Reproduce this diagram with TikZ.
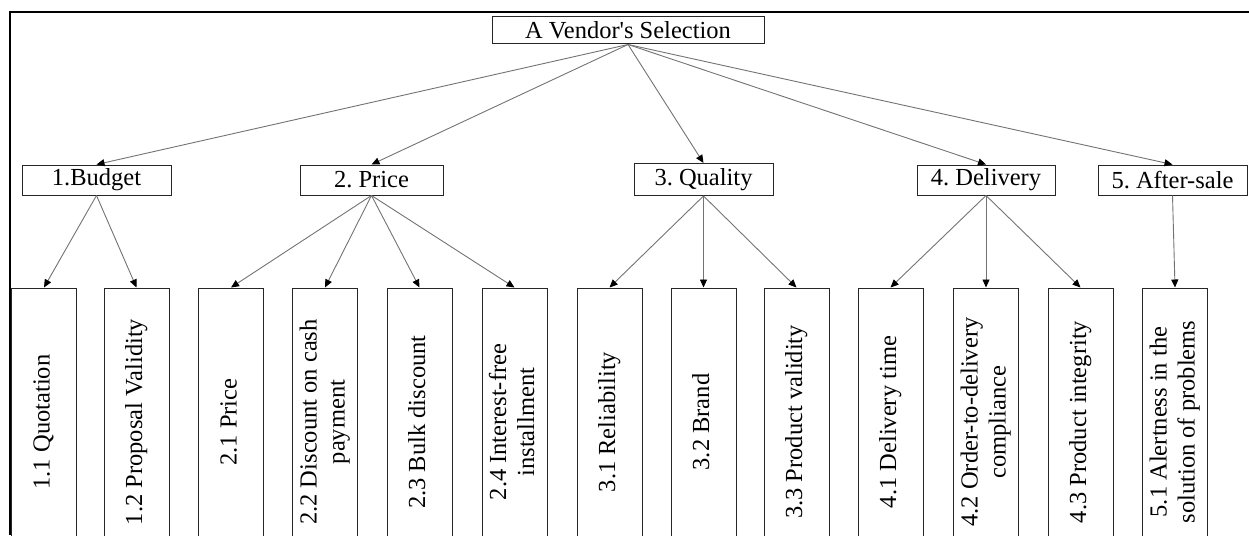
\documentclass[tikz,border=0pt]{standalone}
\usepackage{fontspec}
\usepackage{graphicx}
\setmainfont{Liberation Serif}
\usetikzlibrary{arrows.meta}

\tikzset{
  crit/.style={draw=black!85, line width=1pt, inner sep=0pt, fill=white},
  subcrit/.style={crit, minimum width=65pt, minimum height=268pt},
  link/.style={draw=black!55, line width=0.9pt, -{Triangle[length=8pt,width=7pt,black]}},
}
\newcommand{\vlabel}[1]{\rotatebox{90}{\begin{tabular}{@{}c@{}}#1\end{tabular}}}
\frenchspacing

\begin{document}
\begin{tikzpicture}[x=1pt, y=-1pt, font=\fontsize{24.5}{28}\selectfont]
  \useasboundingbox (0,0) rectangle (1249,535);
  \clip (0,0) rectangle (1249,535);
  \draw[line width=1.6pt] (10,535) -- (10,12) -- (1249,12);
  % goal
  \node[crit, minimum width=272pt, minimum height=27pt] (root) at (628,30.5) {A Vendor\textquotesingle s Selection\hspace{16pt}};
  % criteria
  \node[crit, minimum width=149pt, minimum height=30pt] (budget) at (96.5,180) {1.Budget};
  \node[crit, minimum width=143pt, minimum height=30pt] (price) at (371.5,180) {2. Price};
  \node[crit, minimum width=139pt, minimum height=32pt] (quality) at (703.5,179.5) {3. Quality};
  \node[crit, minimum width=138pt, minimum height=30pt] (delivery) at (986,180) {4. Delivery};
  \node[crit, minimum width=149pt, minimum height=30pt] (aftersale) at (1172.5,180) {5. After-sale\hspace{8pt}};
  % sub-criteria
  \foreach \n/\x/\t in {q11/44/{1.1 Quotation}, q12/136.5/{1.2 Proposal Validity},
      q21/231/{2.1 Price}, q22/325/{2.2 Discount on cash\\payment}, q23/419.5/{2.3 Bulk discount},
      q24/514.5/{2.4 Interest-free\\installment}, q31/609.5/{3.1 Reliability}, q32/703.5/{3.2 Brand},
      q33/796.5/{3.3 Product validity}, q41/890.5/{4.1 Delivery time},
      q42/986/{4.2 Order-to-delivery\\compliance}, q43/1080.5/{4.3 Product integrity},
      q51/1175/{5.1 Alertness in the\\solution of problems}}
    \node[subcrit] (\n) at (\x,422) {\vlabel{\t}};
  % links
  \foreach \a/\b in {root/budget, root/price, root/quality, root/delivery, root/aftersale,
      budget/q11, budget/q12, price/q21, price/q22, price/q23, price/q24,
      quality/q31, quality/q32, quality/q33, delivery/q41, delivery/q42, delivery/q43,
      aftersale/q51}
    \draw[link] (\a.south) -- (\b.north);
\end{tikzpicture}
\end{document}
